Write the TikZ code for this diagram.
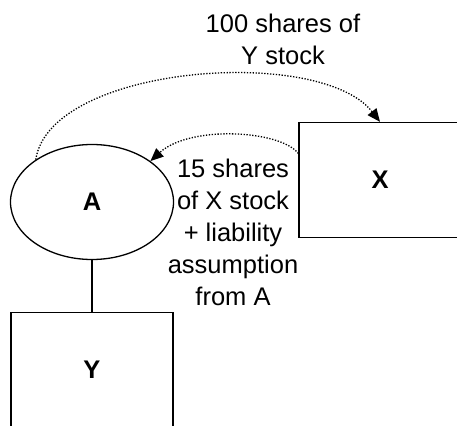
\documentclass[tikz,border=0pt]{standalone}
\usepackage{fontspec}
\setmainfont{Liberation Sans}
\usetikzlibrary{arrows.meta,shapes.geometric}

\begin{document}
\begin{tikzpicture}[x=1pt,y=-1pt,font=\fontsize{25.5}{32}\selectfont,line width=1.3pt,>={Triangle[length=13pt,width=11pt]},
  box/.style={draw,minimum width=162pt,minimum height=115pt,inner sep=0pt,font=\fontsize{25.5}{32}\selectfont\bfseries},
  oval/.style={draw,ellipse,minimum width=163pt,minimum height=115pt,inner sep=0pt,font=\fontsize{25.5}{32}\selectfont\bfseries},
  lbl/.style={align=center,inner sep=0pt},
  flow/.style={->,line width=1.3pt,dash pattern=on 1.3pt off 1.6pt}]
\useasboundingbox (0,0) rectangle (457,425);
\clip (0,0) rectangle (457,425);
\node[oval](a) at (92,202){A};
\node[box](x) at (380,180){X};
\node[box](y) at (92,370){Y};
\node[lbl](t1) at (283,39){100 shares of\\Y stock};
\node[lbl](t2) at (233,232){15 shares\\of X stock\\+ liability\\assumption\\from A};
\draw(a.south)--(y.north);
\draw[flow](a.143) .. controls (50,65) and (320,45) .. (x.north);
\draw[flow](x.162) .. controls (280,130) and (190,125) .. (a.35);
\end{tikzpicture}
\end{document}
